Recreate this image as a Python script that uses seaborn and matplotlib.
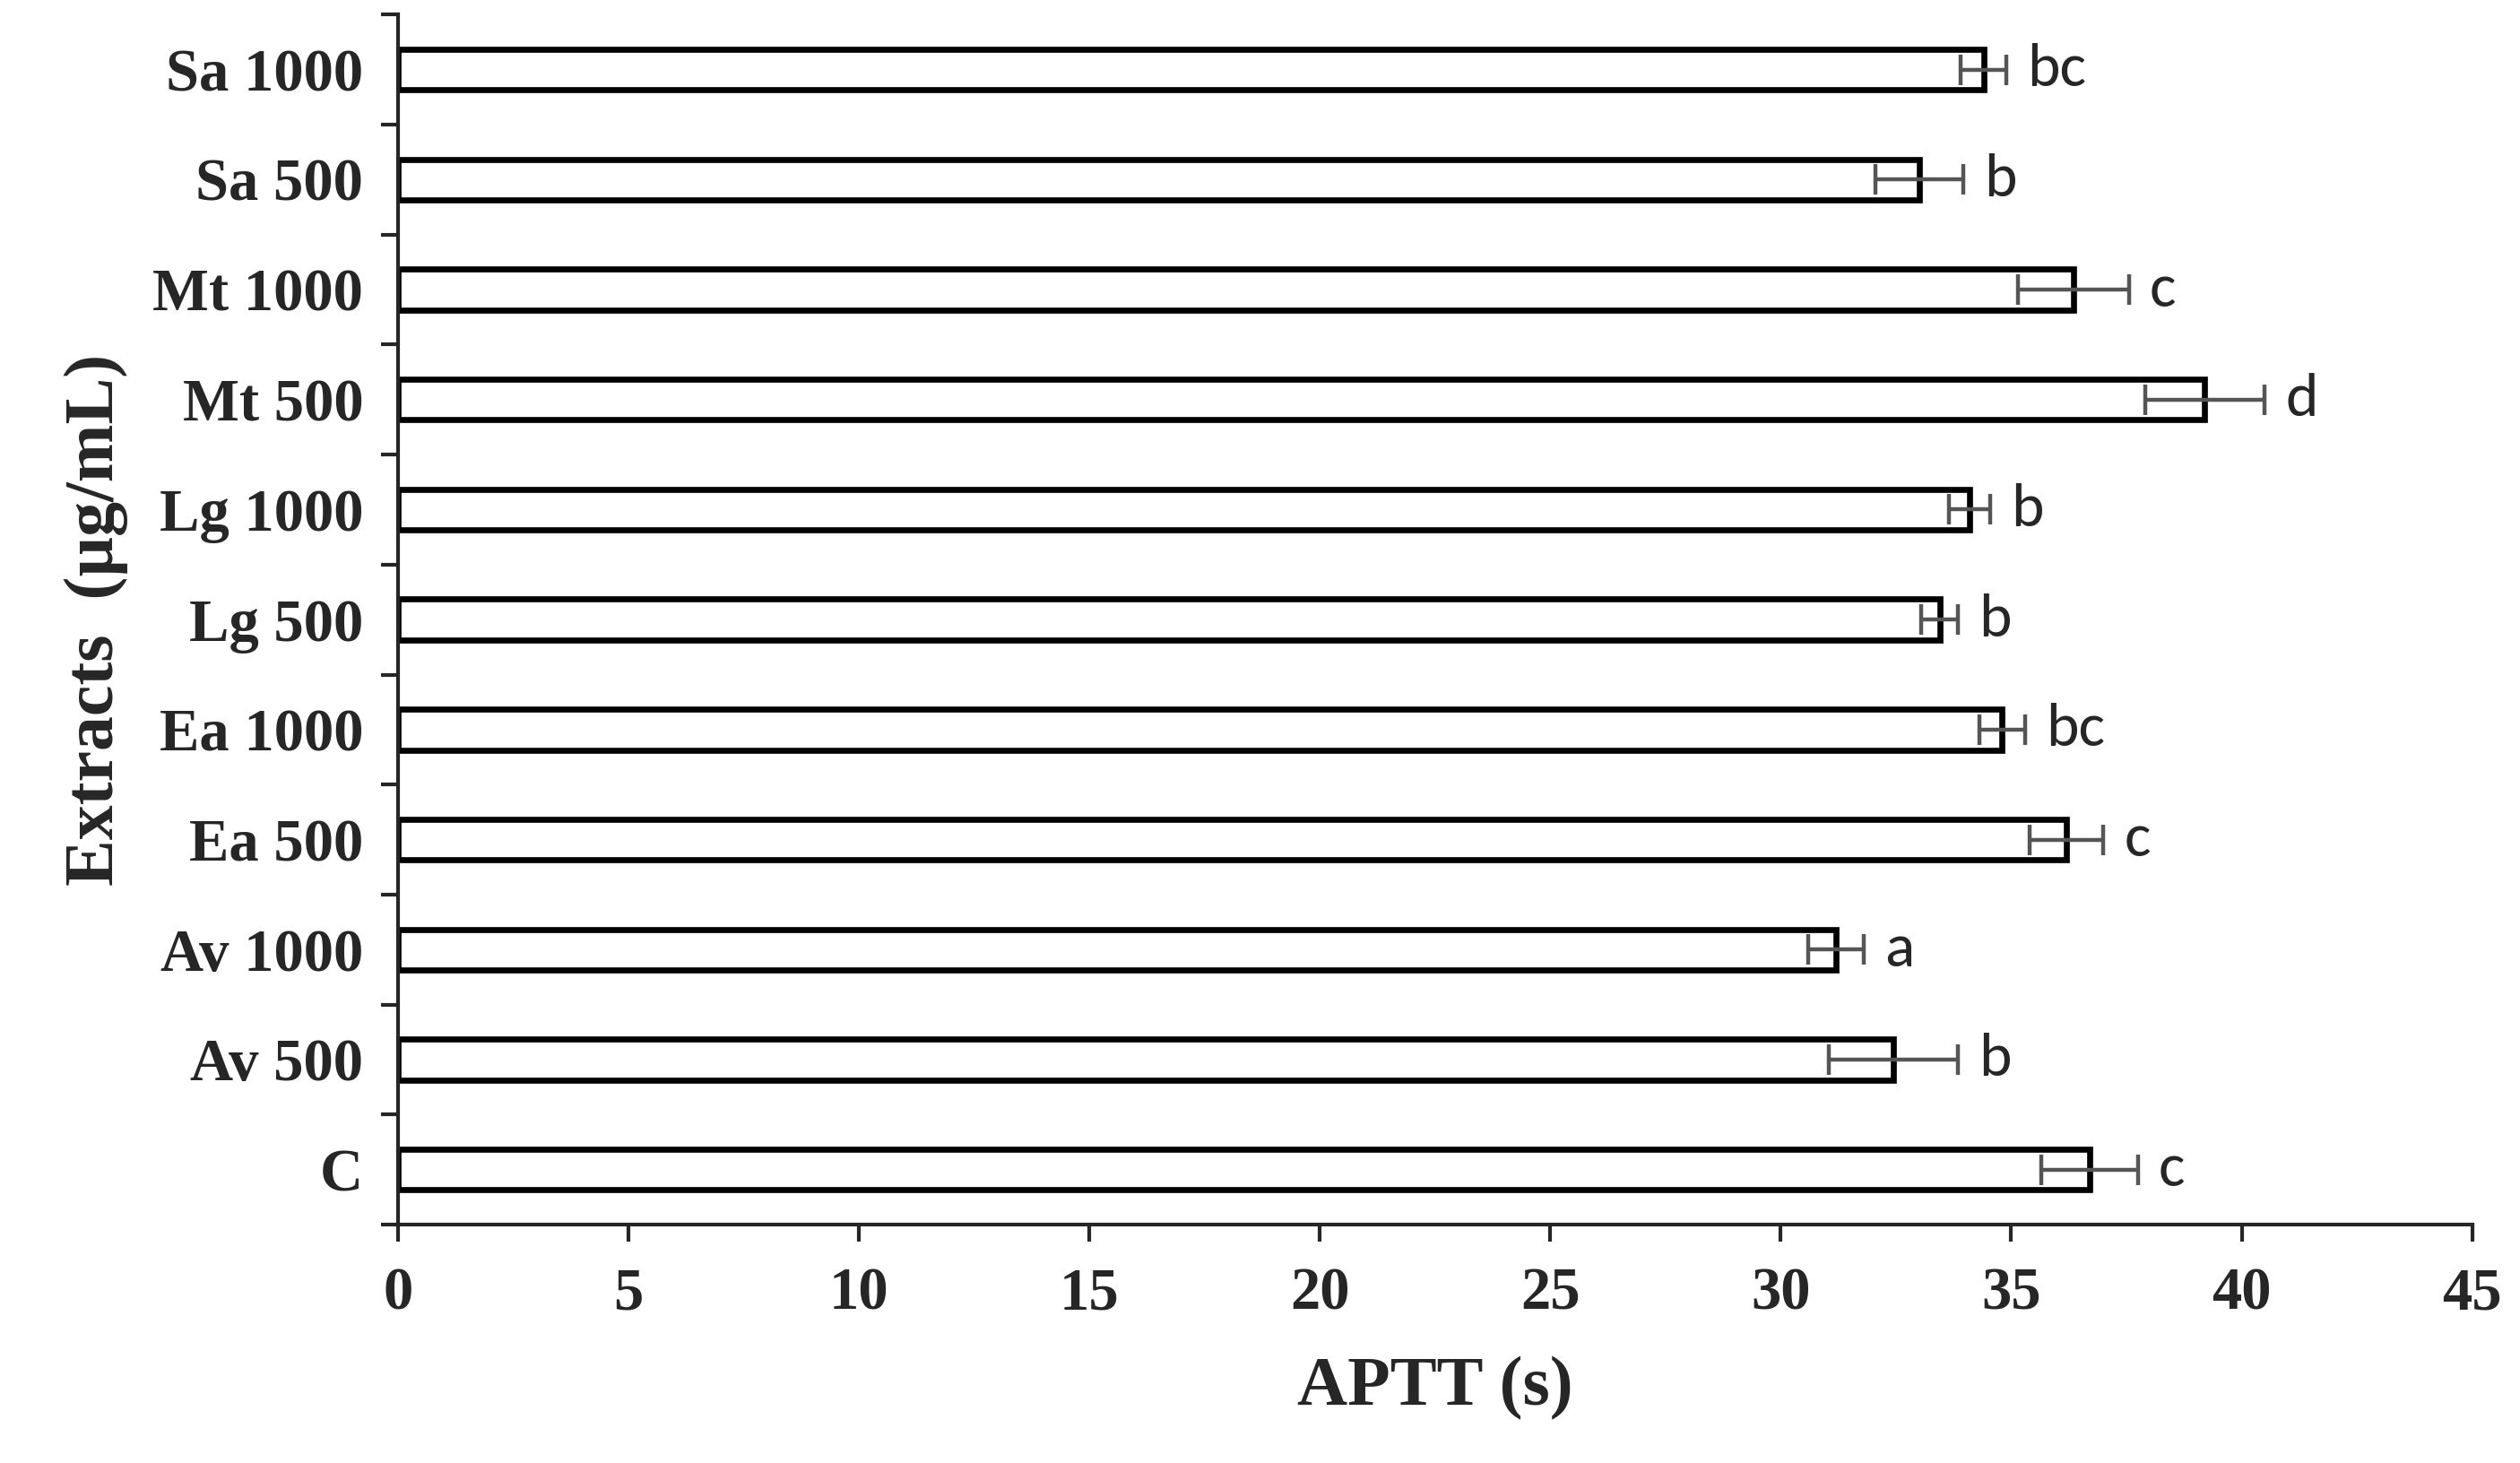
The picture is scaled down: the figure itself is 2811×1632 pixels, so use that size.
import numpy as np
import pandas as pd
import seaborn as sns
import matplotlib.pyplot as plt

categories = ["Sa 1000", "Sa 500", "Mt 1000", "Mt 500", "Lg 1000", "Lg 500",
              "Ea 1000", "Ea 500", "Av 1000", "Av 500", "C"]
aptt = [34.4, 33.0, 36.35, 39.2, 34.1, 33.45, 34.8, 36.2, 31.2, 32.45, 36.7]
errors = [0.5, 0.95, 1.2, 1.3, 0.45, 0.4, 0.5, 0.8, 0.6, 1.4, 1.05]
letters = ["bc", "b", "c", "d", "b", "b", "bc", "c", "a", "b", "c"]

df = pd.DataFrame({"Extract": categories, "APTT": aptt})

sns.set_style("ticks")
plt.rcParams['font.family'] = ['Liberation Serif', 'DejaVu Serif']

fig = plt.figure(figsize=(14.055, 8.16), dpi=200)
ax = fig.add_axes([0.158, 0.163, 0.823, 0.827])

sns.barplot(data=df, x="APTT", y="Extract", order=categories, orient="h",
            color="white", edgecolor="black", linewidth=2.4, width=0.37, ax=ax)
ypos = np.arange(len(categories))
ax.errorbar(aptt, ypos, xerr=errors, fmt="none", ecolor="#555555",
            elinewidth=1.6, capsize=6, capthick=1.6)
for y, v, e, lab in zip(ypos, aptt, errors, letters):
    ax.text(v + e + 0.45, y, lab, va="center", ha="left", fontsize=25,
            family=["Carlito", "Liberation Sans", "DejaVu Sans"])

ax.set_xlim(0, 45)
ax.set_ylim(10.5, -0.5)
ax.set_xticks(range(0, 46, 5))
ax.set_yticks(ypos)
ax.set_yticks(np.arange(-0.5, 10.6, 1), minor=True)
ax.tick_params(axis="y", which="major", length=0, pad=14)
ax.tick_params(axis="y", which="minor", length=7, width=1.5, direction="out")
ax.tick_params(axis="x", length=7, width=1.5, direction="out", pad=10)
for lab in ax.get_xticklabels() + ax.get_yticklabels():
    lab.set_fontsize(24)
    lab.set_fontweight("bold")
sns.despine(ax=ax)
for s in ["left", "bottom"]:
    ax.spines[s].set_linewidth(1.5)
ax.set_xlabel("APTT (s)", fontsize=28, fontweight="bold", labelpad=14)
ax.set_ylabel("Extracts  (µg/mL)", fontsize=28, fontweight="bold", labelpad=10)

fig.savefig("out.png", dpi=200)
